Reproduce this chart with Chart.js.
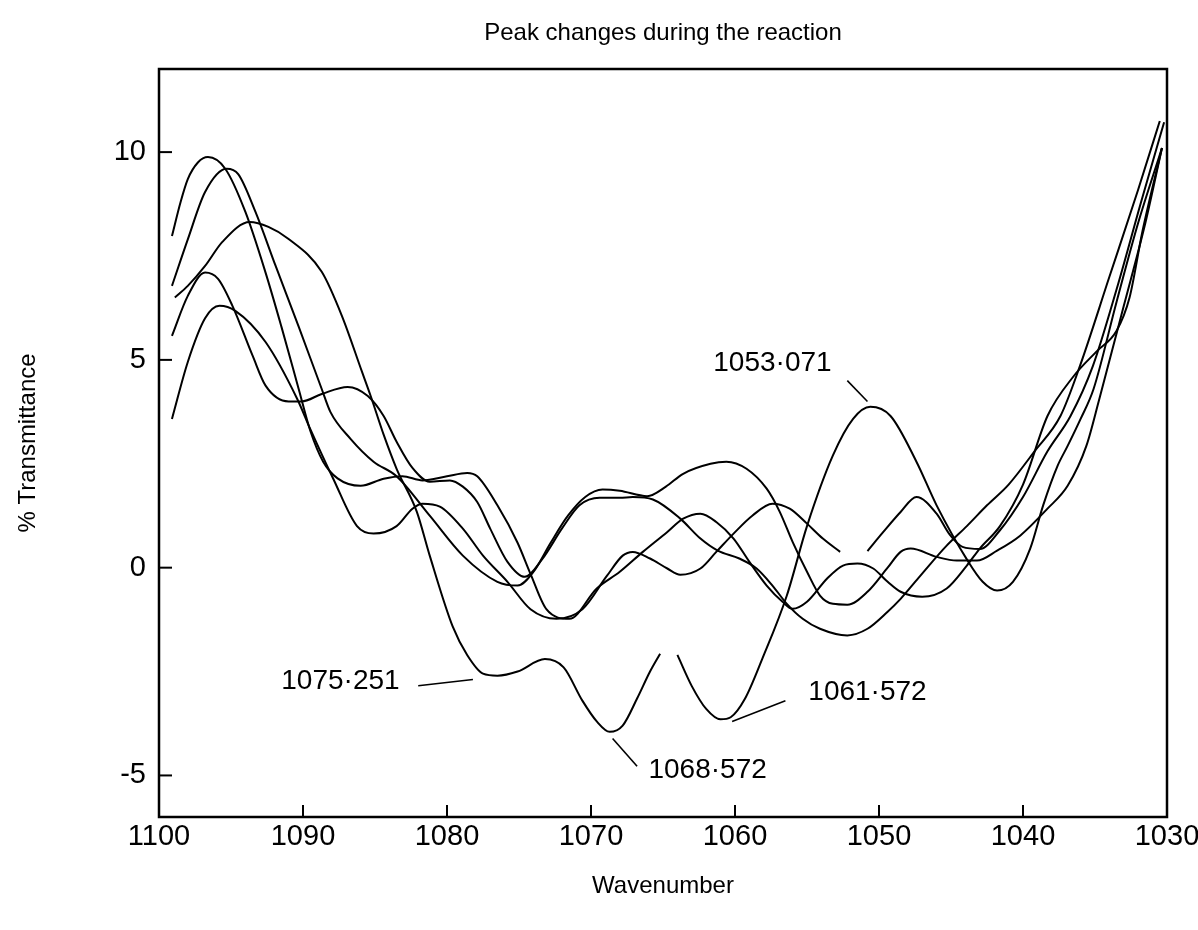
<!DOCTYPE html>
<html>
<head>
<meta charset="utf-8">
<title>Peak changes during the reaction</title>
<script src="https://cdn.jsdelivr.net/npm/chart.js@4.4.1/dist/chart.umd.min.js"></script>
<style>
    html, body { margin: 0; padding: 0; background: #fff; }
    #wrap { width: 1198px; height: 930px; }
</style>
</head>
<body>
<div id="wrap"><canvas id="peakChart" width="1198" height="930"></canvas></div>
<script>
// wavenumber ticks / transmittance ticks
const xTickValues = [1100, 1090, 1080, 1070, 1060, 1050, 1040, 1030];
const yTickValues = [-5, 0, 5, 10];

// curve 1 (highest left peak)
const curve1X = [1099.1, 1098.5, 1098.0, 1097.3, 1096.6, 1095.4, 1094.0, 1092.6, 1091.5, 1090.3, 1089.5, 1088.6, 1087.6, 1086.0, 1084.4, 1083.1, 1081.7, 1080.0, 1078.6, 1077.9, 1076.5, 1075.1, 1074.2, 1073.1, 1071.5, 1069.6, 1068.0, 1066.4, 1064.7, 1063.6, 1062.4, 1061.3, 1060.1, 1059.0, 1057.8, 1056.7, 1056.0, 1055.0, 1053.6, 1052.5, 1051.5, 1050.4, 1049.4, 1048.5, 1047.0, 1045.3, 1043.9, 1043.0, 1041.6, 1040.0, 1038.3, 1036.5, 1034.9, 1033.5, 1032.6, 1031.7, 1030.35];
const curve1Y = [7.98, 8.8, 9.35, 9.75, 9.88, 9.6, 8.56, 7.1, 5.8, 4.3, 3.3, 2.55, 2.15, 1.97, 2.14, 2.2, 2.1, 2.2, 2.28, 2.2, 1.5, 0.6, -0.15, -1.0, -1.23, -0.5, -0.1, 0.38, 0.86, 1.18, 1.3, 1.1, 0.7, 0.14, -0.43, -0.82, -0.99, -0.82, -0.26, 0.05, 0.1, -0.02, -0.34, -0.58, -0.7, -0.5, 0.05, 0.46, 1.0, 2.0, 3.65, 4.6, 5.2, 5.7, 6.5, 8.1, 10.1];

// curve 2
const curve2X = [1099.1, 1098.0, 1096.8, 1095.3, 1094.5, 1093.3, 1091.9, 1090.3, 1088.7, 1088.1, 1086.7, 1085.1, 1083.5, 1081.2, 1078.9, 1076.5, 1075.1, 1074.0, 1072.8, 1071.6, 1070.4, 1069.2, 1068.0, 1066.1, 1064.8, 1063.6, 1061.7, 1060.6, 1059.2, 1057.8, 1056.9, 1056.0, 1055.0, 1054.1, 1053.2, 1052.2, 1050.8, 1049.4, 1048.5, 1047.8, 1046.0, 1044.6, 1043.2, 1041.8, 1040.2, 1038.3, 1036.9, 1035.6, 1034.7, 1033.0, 1031.5, 1030.35];
const curve2Y = [6.78, 7.9, 9.04, 9.6, 9.47, 8.56, 7.26, 5.8, 4.3, 3.75, 3.1, 2.55, 2.2, 1.25, 0.29, -0.34, -0.43, -0.1, 0.6, 1.25, 1.7, 1.88, 1.85, 1.72, 1.95, 2.26, 2.5, 2.55, 2.38, 1.9, 1.35, 0.62, -0.1, -0.67, -0.87, -0.89, -0.58, 0.0, 0.38, 0.46, 0.26, 0.17, 0.17, 0.41, 0.77, 1.42, 1.97, 2.93, 4.06, 6.3, 8.3, 10.1];

// curve 3 (the labelled one, null = pen gap)
const curve3X = [1098.9, 1098.0, 1096.8, 1095.6, 1093.7, 1092.4, 1091.0, 1088.7, 1087.3, 1085.9, 1085.3, 1084.4, 1083.5, 1082.1, 1081.2, 1079.6, 1078.6, 1077.5, 1076.5, 1075.1, 1073.2, 1071.9, 1070.6, 1069.6, 1068.7, 1067.8, 1066.8, 1065.9, 1065.2, 1064.6, 1064.0, 1063.0, 1062.0, 1061.0, 1060.3, 1059.3, 1058.1, 1056.4, 1055.0, 1053.2, 1051.8, 1050.6, 1049.2, 1047.4, 1046.0, 1043.9, 1042.8, 1041.8, 1040.7, 1039.5, 1038.6, 1037.6, 1036.9, 1036.0, 1035.1, 1033.5, 1032.0, 1030.35];
const curve3Y = [6.5, 6.78, 7.26, 7.84, 8.32, 8.2, 7.91, 7.12, 6.06, 4.71, 4.13, 3.2, 2.38, 1.35, 0.29, -1.42, -2.1, -2.55, -2.6, -2.5, -2.2, -2.4, -3.2, -3.7, -3.95, -3.8, -3.15, -2.5, -2.07, null, -2.1, -2.85, -3.4, -3.65, -3.6, -3.15, -2.19, -0.67, 1.0, 2.7, 3.58, 3.87, 3.65, 2.55, 1.5, 0.2, -0.34, -0.55, -0.34, 0.46, 1.5, 2.45, 2.93, 3.58, 4.3, 6.4, 8.3, 10.1];

// curve 4
const curve4X = [1099.1, 1098.0, 1096.8, 1095.9, 1094.9, 1093.5, 1092.6, 1091.0, 1090.1, 1088.7, 1086.9, 1085.5, 1084.4, 1083.5, 1082.4, 1081.2, 1079.8, 1078.9, 1077.9, 1077.0, 1075.8, 1074.6, 1073.4, 1072.0, 1070.8, 1069.4, 1068.0, 1067.1, 1065.7, 1063.8, 1062.4, 1061.2, 1059.7, 1058.5, 1057.4, 1056.4, 1055.3, 1054.1, 1052.2, 1050.8, 1049.4, 1048.5, 1046.9, 1045.3, 1043.9, 1042.5, 1041.0, 1039.2, 1037.4, 1036.05, 1034.0, 1032.0, 1030.5];
const curve4Y = [5.58, 6.54, 7.1, 6.95, 6.3, 5.1, 4.38, 4.0, 4.0, 4.18, 4.35, 4.13, 3.65, 3.03, 2.4, 2.07, 2.1, 1.95, 1.58, 0.94, 0.14, -0.22, 0.2, 0.95, 1.5, 1.68, 1.68, 1.7, 1.64, 1.18, 0.7, 0.41, 0.22, -0.02, -0.43, -0.87, -1.23, -1.47, -1.63, -1.47, -1.06, -0.75, -0.1, 0.53, 1.0, 1.5, 2.0, 2.8, 3.65, 4.85, 7.0, 9.1, 10.75];

// curve 5 (lowest start)
const curve5X = [1099.1, 1098.0, 1096.8, 1095.8, 1094.7, 1092.6, 1090.4, 1089.5, 1087.9, 1086.25, 1085.1, 1083.5, 1082.4, 1081.7, 1080.5, 1078.9, 1077.5, 1075.8, 1074.2, 1072.4, 1070.6, 1068.9, 1067.8, 1067.1, 1065.9, 1064.7, 1063.8, 1062.4, 1061.3, 1060.1, 1058.8, 1057.4, 1056.2, 1055.0, 1053.9, 1052.7, 1051.8, 1050.8, 1049.7, 1048.5, 1047.4, 1046.0, 1045.1, 1044.2, 1043.0, 1041.6, 1040.0, 1038.3, 1036.7, 1035.15, 1033.5, 1031.8, 1030.2];
const curve5Y = [3.58, 4.95, 6.0, 6.3, 6.18, 5.43, 4.06, 3.34, 2.14, 1.0, 0.82, 1.0, 1.42, 1.54, 1.47, 0.94, 0.29, -0.34, -1.0, -1.23, -1.0, -0.2, 0.29, 0.38, 0.22, -0.02, -0.17, -0.02, 0.38, 0.82, 1.25, 1.54, 1.42, 1.06, 0.7, 0.38, null, 0.4, 0.86, 1.34, 1.7, 1.3, 0.8, 0.5, 0.45, 0.9, 1.7, 2.8, 3.65, 4.85, 6.7, 8.8, 10.72];

// peak labels with their leader lines (data units)
const peakLabels = ['1053\u00b7071', '1075\u00b7251', '1068\u00b7572', '1061\u00b7572'];
const peakLabelX = [1057.4, 1087.4, 1061.9, 1050.8];
const peakLabelY = [4.93, -2.74, -4.88, -3.0];
const leaderFromX = [1052.2, 1082.0, 1068.5, 1060.2];
const leaderFromY = [4.5, -2.84, -4.11, -3.7];
const leaderToX = [1050.8, 1078.2, 1066.8, 1056.5];
const leaderToY = [4.0, -2.69, -4.78, -3.2];

const chartTitle = 'Peak changes during the reaction';
const FONT = '"Liberation Sans", Arial, sans-serif';

function toPoints(xs, ys) {
    return xs.map((x, i) => ({ x: x, y: ys[i] }));
}

function makeCurve(xs, ys) {
    return {
        data: toPoints(xs, ys),
        borderColor: '#000',
        borderWidth: 2,
        pointRadius: 0,
        fill: false,
        spanGaps: false,
        cubicInterpolationMode: 'monotone'
    };
}

// frame, inward tick marks, title and peak labels
const framePlugin = {
    id: 'frame',
    afterDatasetsDraw(chart) {
        const ctx = chart.ctx;
        const a = chart.chartArea;
        const xs = chart.scales.x;
        const ys = chart.scales.y;
        ctx.save();
        ctx.strokeStyle = '#000';
        ctx.lineWidth = 2.5;
        ctx.strokeRect(a.left, a.top, a.right - a.left, a.bottom - a.top);

        ctx.lineWidth = 2;
        xTickValues.forEach(v => {
            const px = xs.getPixelForValue(v);
            ctx.beginPath();
            ctx.moveTo(px, a.bottom);
            ctx.lineTo(px, a.bottom - 12);
            ctx.stroke();
        });
        yTickValues.forEach(v => {
            const py = ys.getPixelForValue(v);
            ctx.beginPath();
            ctx.moveTo(a.left, py);
            ctx.lineTo(a.left + 13, py);
            ctx.stroke();
        });

        ctx.lineWidth = 1.6;
        for (let i = 0; i < peakLabels.length; i++) {
            ctx.beginPath();
            ctx.moveTo(xs.getPixelForValue(leaderFromX[i]), ys.getPixelForValue(leaderFromY[i]));
            ctx.lineTo(xs.getPixelForValue(leaderToX[i]), ys.getPixelForValue(leaderToY[i]));
            ctx.stroke();
        }
        ctx.fillStyle = '#000';
        ctx.font = '28px ' + FONT;
        ctx.textAlign = 'center';
        ctx.textBaseline = 'middle';
        for (let i = 0; i < peakLabels.length; i++) {
            ctx.fillText(peakLabels[i], xs.getPixelForValue(peakLabelX[i]), ys.getPixelForValue(peakLabelY[i]));
        }

        ctx.font = '24px ' + FONT;
        ctx.fillText(chartTitle, (a.left + a.right) / 2, a.top - 36);
        ctx.restore();
    }
};

const ctx = document.getElementById('peakChart').getContext('2d');
new Chart(ctx, {
    type: 'line',
    data: {
        datasets: [
            makeCurve(curve1X, curve1Y),
            makeCurve(curve2X, curve2Y),
            makeCurve(curve3X, curve3Y),
            makeCurve(curve4X, curve4Y),
            makeCurve(curve5X, curve5Y)
        ]
    },
    options: {
        responsive: false,
        animation: false,
        devicePixelRatio: 1,
        layout: { padding: { left: 0, right: 31, top: 69, bottom: 0 } },
        plugins: {
            legend: { display: false },
            tooltip: { enabled: false },
            title: { display: false }
        },
        scales: {
            x: {
                type: 'linear',
                reverse: true,
                min: 1030,
                max: 1100,
                afterBuildTicks: s => { s.ticks = xTickValues.map(v => ({ value: v })); },
                afterFit: s => { s.height = 113; s.paddingLeft = 0; s.paddingRight = 0; },
                grid: { display: false, drawTicks: false },
                border: { display: false },
                ticks: {
                    color: '#000',
                    font: { family: FONT, size: 29 },
                    padding: 3,
                    maxRotation: 0,
                    autoSkip: false,
                    callback: v => String(v)
                },
                title: {
                    display: true,
                    text: 'Wavenumber',
                    color: '#000',
                    font: { family: FONT, size: 24 },
                    padding: { top: 0, bottom: 29 }
                }
            },
            y: {
                type: 'linear',
                min: -6,
                max: 12,
                afterBuildTicks: s => { s.ticks = yTickValues.map(v => ({ value: v })); },
                afterFit: s => { s.width = 159; s.paddingTop = 0; s.paddingBottom = 0; },
                grid: { display: false, drawTicks: false },
                border: { display: false },
                ticks: {
                    color: '#000',
                    font: { family: FONT, size: 29 },
                    padding: 13,
                    callback: v => String(v)
                },
                title: {
                    display: true,
                    text: '% Transmittance',
                    color: '#000',
                    font: { family: FONT, size: 24 },
                    padding: { top: 14, bottom: 0 }
                }
            }
        }
    },
    plugins: [framePlugin]
});
</script>
</body>
</html>
